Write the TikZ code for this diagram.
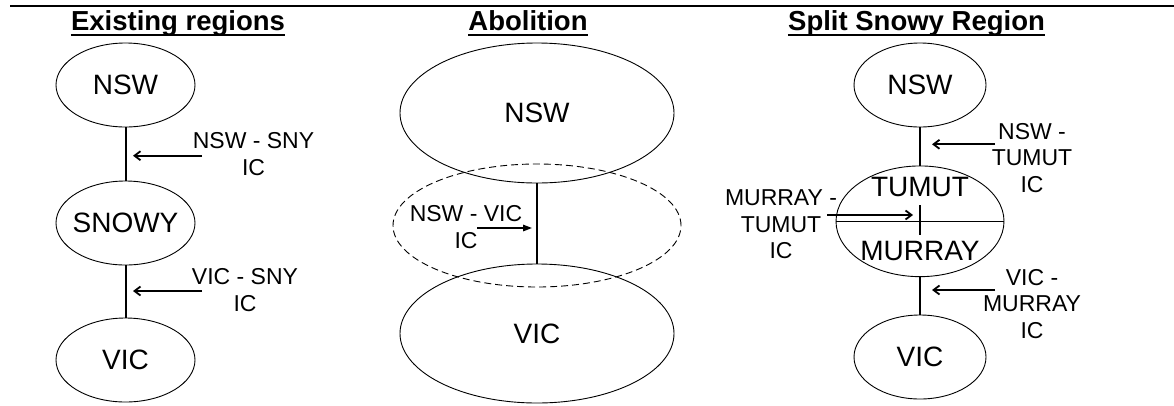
\documentclass[tikz,border=0pt]{standalone}
\usepackage{fontspec}
\setmainfont{Liberation Sans}
\usepackage{tikz}
\usetikzlibrary{shapes.geometric, arrows.meta}

\newcommand{\titlefont}{\fontsize{27.5}{30}\bfseries\selectfont}
\newcommand{\regfont}{\fontsize{28}{30}\selectfont}
\newcommand{\icfont}{\fontsize{23}{26.5}\selectfont}

\begin{document}
\begin{tikzpicture}[x=1pt, y=-1pt,
	title/.style={font=\titlefont, anchor=base, inner sep=0pt},
	region/.style={ellipse, draw, line width=0.9pt, inner xsep=-15pt, inner ysep=0pt, font=\regfont},
	regtext/.style={inner sep=0pt, font=\regfont},
	iclabel/.style={align=center, inner sep=0pt, font=\icfont},
	link/.style={line width=2pt},
	thinlink/.style={line width=1.3pt},
	icarrow/.style={line width=1.8pt, -{Straight Barb[length=6pt,width=9pt]}},
	flowarrow/.style={line width=1.5pt, -{Triangle[length=9pt,width=6.5pt]}}]
	\useasboundingbox (0,0) rectangle (1174,405);
	\draw[line width=2.2pt] (10,5.7) -- (1174,5.7);

	% headings
	\node[title] (exist) at (178,30) {Existing regions};
	\node[title] (abol) at (528,30) {Abolition};
	\node[title] (split) at (916.5,30) {Split Snowy Region};
	\foreach \t in {exist, abol, split}
		\draw[line width=2pt] ([yshift=-5pt]\t.base west) -- ([yshift=-5pt]\t.base east);

	% existing regions
	\node[region, minimum width=139pt, minimum height=84pt] (lnsw) at (125.5,85) {NSW};
	\node[region, minimum width=139pt, minimum height=84pt] (lsny) at (125.5,223) {SNOWY};
	\node[region, minimum width=139pt, minimum height=84pt] (lvic) at (125.5,360) {VIC};
	\draw[link] (lnsw) -- (lsny);
	\draw[link] (lsny) -- (lvic);
	\node[iclabel] (lic1) at (253.5,154.3) {NSW - SNY\\IC};
	\node[iclabel] (lic2) at (245,290) {VIC - SNY\\IC};
	\coordinate (la1) at (202,155.7);
	\coordinate (lb1) at (133,155.7);
	\coordinate (la2) at (202,291);
	\coordinate (lb2) at (133,291);
	\draw[icarrow] (la1) -- (lb1);
	\draw[icarrow] (la2) -- (lb2);

	% abolition
	\node[region, minimum width=288pt, minimum height=123pt, dash pattern=on 7pt off 4pt] (msny) at (537,225.5) {};
	\node[region, minimum width=274pt, minimum height=140pt] (mnsw) at (537,113) {NSW};
	\node[region, minimum width=274pt, minimum height=139pt] (mvic) at (537,333.5) {VIC};
	\draw[link] (mnsw) -- (mvic);
	\node[iclabel] (mic) at (466,227.3) {NSW - VIC\\IC};
	\coordinate (ma) at (477,228);
	\coordinate (mb) at (532,228);
	\draw[flowarrow] (ma) -- (mb);

	% split snowy region
	\node[region, minimum width=132pt, minimum height=84pt] (rnsw) at (920,85) {NSW};
	\node[region, minimum width=168pt, minimum height=110.7pt] (rsny) at (920,221.3) {};
	\node[region, minimum width=132pt, minimum height=84pt] (rvic) at (920,357) {VIC};
	\draw[thinlink] (rnsw) -- (rsny);
	\draw[thinlink] (rsny) -- (rvic);
	\draw[line width=0.9pt] (rsny.west) -- (rsny.east);
	\draw[thinlink] (920,205) -- (920,235);
	\node[regtext] (tumut) at (920,187.3) {TUMUT};
	\node[regtext] (murray) at (920,251.2) {MURRAY};
	\node[iclabel] (ric1) at (1032,158) {NSW -\\TUMUT\\IC};
	\node[iclabel] (ric2) at (1032,304) {VIC -\\MURRAY\\IC};
	\node[iclabel] (ric3) at (781,224.6) {MURRAY -\\TUMUT\\IC};
	\coordinate (ra1) at (995,144.3);
	\coordinate (rb1) at (932,144.3);
	\coordinate (ra2) at (995,290);
	\coordinate (rb2) at (932,290);
	\coordinate (ra3) at (827,215);
	\coordinate (rb3) at (913,215);
	\draw[icarrow] (ra1) -- (rb1);
	\draw[icarrow] (ra2) -- (rb2);
	\draw[icarrow] (ra3) -- (rb3);
\end{tikzpicture}
\end{document}
